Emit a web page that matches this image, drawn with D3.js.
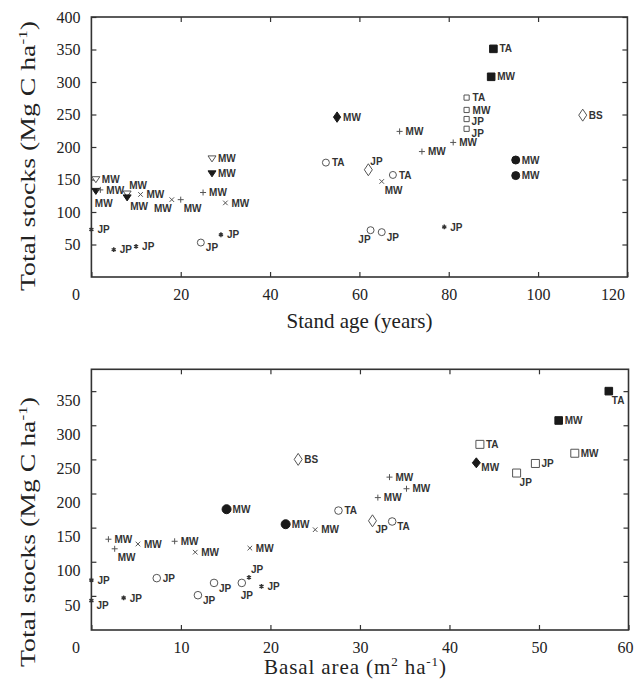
<!DOCTYPE html>
<html>
<head>
<meta charset="utf-8">
<script src="https://cdn.jsdelivr.net/npm/d3@7"></script>
<style>
  body { margin: 0; background: #fff; }
  .tick text { font-family: "Liberation Serif", "Times New Roman", serif; font-size: 16px; fill: #222; }
  .title { font-family: "Liberation Serif", "Times New Roman", serif; font-size: 21px; fill: #222; }
  .lab { font-family: "Liberation Sans", Arial, sans-serif; font-size: 10px; font-weight: bold; fill: #333; }
</style>
</head>
<body>
<div id="chart"></div>
<script>
// ---- top panel: total stocks vs stand age ----
const ageX = [1, 1, 2, 8, 8, 11, 18, 20, 25, 30, 27, 27, 0, 5, 10, 24.5, 29,
  55, 69, 74, 81, 52.5, 62, 67.5, 65, 62.5, 65, 79, 90, 89.5, 84, 84, 84, 84, 110, 95, 95];
const ageStock = [150, 132, 134, 128, 122, 127, 119, 119, 130, 114, 182, 159, 73, 42, 47, 53, 65,
  246, 224, 193, 207, 176, 165, 157, 147, 72, 69, 77, 351, 308, 276, 257, 243, 228, 249, 180, 156];
const ageSpecies = ["MW", "MW", "MW", "MW", "MW", "MW", "MW", "MW", "MW", "MW", "MW", "MW", "JP", "JP", "JP", "JP", "JP",
  "MW", "MW", "MW", "MW", "TA", "JP", "TA", "MW", "JP", "JP", "JP", "TA", "MW", "TA", "MW", "JP", "JP", "BS", "MW", "MW"];
const ageMarker = ["triOpen", "triFill", "plus", "triOpen", "triFill", "cross", "cross", "plus", "plus", "cross", "triOpen", "triFill",
  "star", "star", "star", "circOpen", "star",
  "diaFill", "plus", "plus", "plus", "circOpen", "diaOpen", "circOpen", "cross", "circOpen", "circOpen", "star",
  "sqFill", "sqFill", "sqOpen", "sqOpen", "sqOpen", "sqOpen", "diaOpen", "circFill", "circFill"];
const agePlace = ["r", "b", "r", "ar", "br", "r", "bl", "br", "r", "r", "r", "r", "r", "r", "r", "rd", "r",
  "r", "r", "r", "r", "r", "ar", "r", "br", "bl", "rd", "r", "r", "r", "r", "r", "rd2", "rd", "r", "r", "r"];
const ageTicks = [0, 20, 40, 60, 80, 100, 120];
const ageStockTicks = [50, 100, 150, 200, 250, 300, 350, 400];

// ---- bottom panel: total stocks vs basal area ----
const baX = [15.1, 21.7, 1.9, 2.6, 5.2, 9.3, 11.6, 17.7, 0, 0, 3.6, 7.3, 11.9, 13.7, 16.8, 17.6, 19,
  23.1, 33.3, 35.2, 32, 27.6, 25, 31.4, 33.6, 57.8, 52.2, 43.4, 43, 49.6, 54, 47.5];
const baStock = [177, 155, 133, 119, 126, 130, 114, 120, 73, 43, 47, 76, 51, 69, 69, 77, 64,
  250, 224, 207, 194, 175, 147, 160, 159, 350, 307, 272, 245, 244, 259, 230];
const baSpecies = ["MW", "MW", "MW", "MW", "MW", "MW", "MW", "MW", "JP", "JP", "JP", "JP", "JP", "JP", "JP", "JP", "JP",
  "BS", "MW", "MW", "MW", "TA", "MW", "JP", "TA", "TA", "MW", "TA", "MW", "JP", "MW", "JP"];
const baMarker = ["circFill", "circFill", "plus", "plus", "cross", "plus", "cross", "cross",
  "star", "star", "star", "circOpen", "circOpen", "circOpen", "circOpen", "star", "star",
  "diaOpen", "plus", "plus", "plus", "circOpen", "cross", "diaOpen", "circOpen",
  "sqFill", "sqFill", "sqOpen", "diaFill", "sqOpen", "sqOpen", "sqOpen"];
const baPlace = ["r", "r", "r", "br", "r", "r", "r", "r", "r", "rd", "r", "r", "rd", "rd", "b", "ar", "r",
  "r", "r", "r", "r", "r", "r", "br", "rd", "br", "r", "r", "rd", "r", "r", "br"];
const baTicks = [0, 10, 20, 30, 40, 50, 60];
const baStockTicks = [50, 100, 150, 200, 250, 300, 350];

let width = 636, height = 683;
let svg = d3.select("#chart").append("svg")
  .attr("width", width).attr("height", height)
  .style("background", "#fff");

// label offsets for each placement code
const places = {
  r: { dx: 6, dy: 0, anchor: "start" },
  rd2: { dx: 5, dy: 2.5, anchor: "start" },
  rd: { dx: 5, dy: 5, anchor: "start" },
  ar: { dx: 2, dy: -8, anchor: "start" },
  br: { dx: 3, dy: 9, anchor: "start" },
  b: { dx: -1, dy: 12, anchor: "start" },
  bl: { dx: 0, dy: 9, anchor: "end" }
};

// marker shapes drawn around (0,0)
const shape = (type, sz) => {
  let p = d3.path(), r;
  switch (type) {
    case "triOpen": case "triFill":
      r = sz.tri;
      p.moveTo(-r, -r * 0.7); p.lineTo(r, -r * 0.7); p.lineTo(0, r * 0.8); p.closePath(); break;
    case "circOpen": r = sz.circ; p.arc(0, 0, r, 0, 2 * Math.PI); break;
    case "circFill": r = sz.circF; p.arc(0, 0, r, 0, 2 * Math.PI); break;
    case "sqOpen": r = sz.sq; p.rect(-r, -r, 2 * r, 2 * r); break;
    case "sqFill": r = sz.sqF; p.rect(-r, -r, 2 * r, 2 * r); break;
    case "diaOpen": case "diaFill":
      r = type === "diaFill" ? sz.diaF : sz.dia;
      p.moveTo(0, -r[1]); p.lineTo(r[0], 0); p.lineTo(0, r[1]); p.lineTo(-r[0], 0); p.closePath(); break;
    case "plus":
      r = 3; p.moveTo(-r, 0); p.lineTo(r, 0); p.moveTo(0, -r); p.lineTo(0, r); break;
    case "cross":
      r = 2.3; p.moveTo(-r, -r); p.lineTo(r, r); p.moveTo(-r, r); p.lineTo(r, -r); break;
    case "star":
      r = 2.4;
      for (let k = 0; k < 3; k++) {
        let a = Math.PI / 2 + k * Math.PI / 3;
        p.moveTo(-r * Math.cos(a), -r * Math.sin(a)); p.lineTo(r * Math.cos(a), r * Math.sin(a));
      }
      break;
  }
  return p.toString();
};

const panel = (cfg) => {
  let x = d3.scaleLinear().domain(cfg.xDomain).range([cfg.left, cfg.right]);
  let y = d3.scaleLinear().domain(cfg.yDomain).range([cfg.bottom, cfg.top]);
  let g = svg.append("g");

  // inward ticks on all four sides
  let bottomAxis = g.append("g").attr("transform", "translate(0," + cfg.bottom + ")")
    .call(d3.axisBottom(x).tickValues(cfg.xTicks).tickSize(-5).tickPadding(12).tickFormat(d3.format("d")));
  g.append("g").attr("transform", "translate(0," + cfg.top + ")")
    .call(d3.axisTop(x).tickValues(cfg.xTicks.slice(1, -1)).tickSize(-5).tickFormat(""));
  let leftAxis = g.append("g").attr("transform", "translate(" + cfg.left + ",0)")
    .call(d3.axisLeft(y).tickValues(cfg.yTicks).tickSize(-5).tickPadding(11));
  g.append("g").attr("transform", "translate(" + cfg.right + ",0)")
    .call(d3.axisRight(y).tickValues(cfg.yTicks).tickSize(-5).tickFormat(""));
  g.selectAll(".domain").remove();
  g.selectAll(".tick line").attr("stroke", "#333").attr("stroke-width", 1.2);
  bottomAxis.selectAll(".tick text").attr("dx", (d, i) => i === 0 ? -16 : (i === cfg.xTicks.length - 1 ? cfg.lastShift : 0));
  leftAxis.selectAll(".tick text").attr("transform", "translate(0," + cfg.yLabelShift + ")");

  g.append("rect")
    .attr("x", cfg.left).attr("y", cfg.top)
    .attr("width", cfg.right - cfg.left).attr("height", cfg.bottom - cfg.top)
    .attr("fill", "none").attr("stroke", "#333").attr("stroke-width", 1.6);

  // axis titles
  let xt = g.append("text").attr("class", "title").attr("text-anchor", "middle")
    .attr("x", cfg.xTitleX).attr("y", cfg.xTitleY);
  cfg.xTitle(xt);
  let yt = g.append("text").attr("class", "title").attr("text-anchor", "middle")
    .attr("font-size", 22)
    .attr("textLength", 270).attr("lengthAdjust", "spacingAndGlyphs")
    .attr("transform", "translate(35," + cfg.yTitleY + ") rotate(-90)");
  yt.append("tspan").text("Total stocks (Mg C ha");
  yt.append("tspan").attr("dy", -8).attr("font-size", 13).text("-1");
  yt.append("tspan").attr("dy", 8).text(")");

  let data = cfg.xs.map((v, i) => ({ x: v, y: cfg.ys[i], sp: cfg.species[i], m: cfg.markers[i], pl: places[cfg.place[i]] }));

  let pts = g.selectAll(".pt").data(data).enter().append("g").classed("pt", true)
    .attr("transform", d => "translate(" + x(d.x) + "," + y(d.y) + ")");
  pts.append("path")
    .attr("d", d => shape(d.m, cfg.sizes))
    .attr("fill", d => d.m.endsWith("Fill") ? "#1a1a1a" : (d.m.endsWith("Open") ? "#fff" : "none"))
    .attr("stroke", d => d.m.endsWith("Fill") ? "#1a1a1a" : (d.m === "star" ? "#333" : "#555"))
    .attr("stroke-width", d => d.m === "star" ? 1.4 : 1);
  pts.append("text").attr("class", "lab")
    .attr("x", d => d.pl.dx).attr("y", d => d.pl.dy)
    .attr("dy", "0.36em")
    .attr("text-anchor", d => d.pl.anchor)
    .text(d => d.sp);
};

panel({
  xs: ageX, ys: ageStock, species: ageSpecies, markers: ageMarker, place: agePlace,
  xDomain: [0, 120], yDomain: [0, 400], xTicks: ageTicks, yTicks: ageStockTicks,
  left: 91.4, right: 627.4, top: 17, bottom: 277,
  lastShift: -15, yLabelShift: 0, xTitleX: 359.5, xTitleY: 328, yTitleY: 156,
  sizes: { tri: 4, circ: 3.5, circF: 4, sq: 2.6, sqF: 3.8, dia: [4, 6], diaF: [3.6, 5.2] },
  xTitle: t => t.text("Stand age (years)")
});

panel({
  xs: baX, ys: baStock, species: baSpecies, markers: baMarker, place: baPlace,
  xDomain: [0, 60], yDomain: [0, 382], xTicks: baTicks, yTicks: baStockTicks,
  left: 91.4, right: 628.5, top: 369.3, bottom: 630,
  lastShift: -3.5, yLabelShift: 9, xTitleX: 355, xTitleY: 674, yTitleY: 532,
  sizes: { tri: 4, circ: 3.8, circF: 4.5, sq: 4, sqF: 3.8, dia: [4, 6], diaF: [4, 5] },
  xTitle: t => {
    t.attr("textLength", 182).attr("lengthAdjust", "spacing");
    t.append("tspan").text("Basal area (m");
    t.append("tspan").attr("dy", -8).attr("font-size", 13).text("2");
    t.append("tspan").attr("dy", 8).text(" ha");
    t.append("tspan").attr("dy", -8).attr("font-size", 13).text("-1");
    t.append("tspan").attr("dy", 8).text(")");
  }
});
</script>
</body>
</html>
